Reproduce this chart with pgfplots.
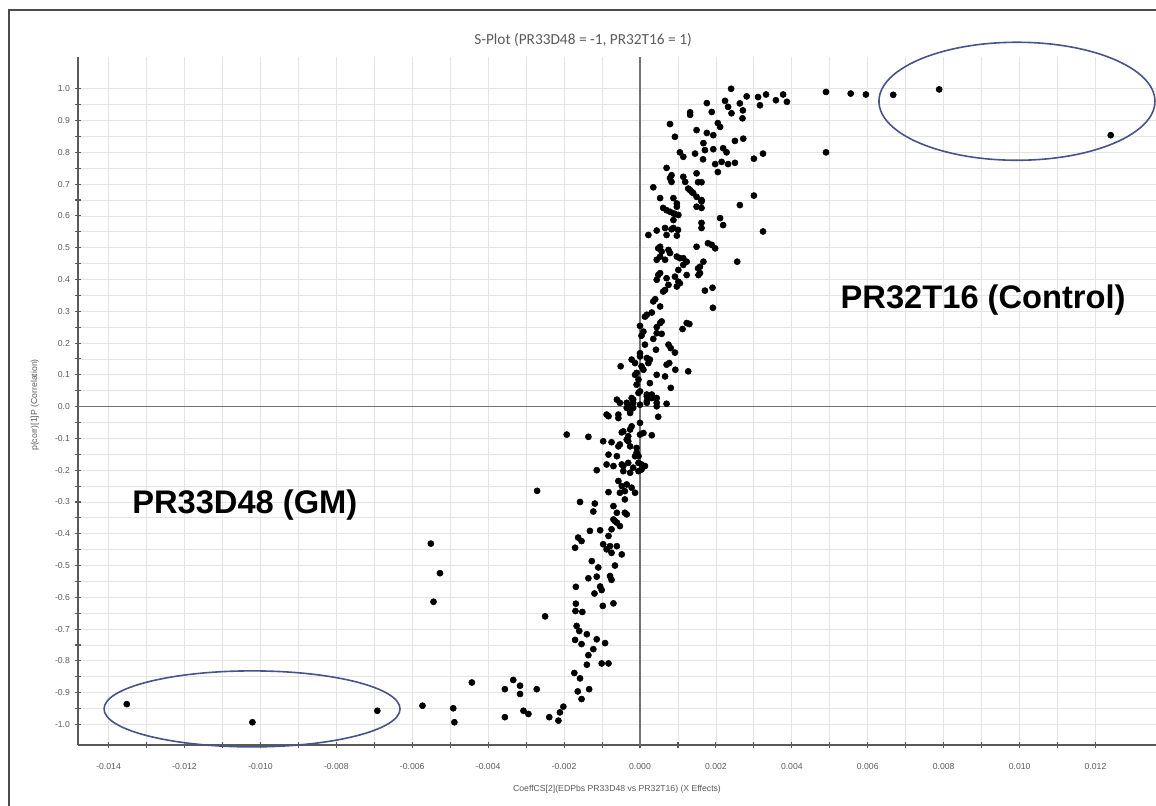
\documentclass[border=0pt]{standalone}
\usepackage{pgfplots}
\pgfplotsset{compat=1.18}
\usepackage{pgfplotstable}
\usepackage{fontspec}
\setmainfont{Liberation Sans}
\newfontfamily\titlefont{Carlito}
\definecolor{tickgray}{HTML}{5A5A5A}
\definecolor{gridgray}{HTML}{E4E4E4}
\definecolor{ellblue}{RGB}{72,82,140}

\pgfplotstableread{
x y
0.0024 1.00
0.0049 0.99
0.00555 0.985
0.00595 0.982
0.00667 0.981
0.00788 0.998
0.0124 0.854
0.00377 0.982
0.00358 0.964
0.00387 0.959
0.00332 0.982
0.00311 0.974
0.00316 0.948
0.00281 0.976
0.00263 0.954
0.00271 0.932
0.0027 0.907
0.00224 0.962
0.00232 0.943
0.00241 0.923
0.00176 0.955
0.00189 0.927
0.00132 0.926
0.00132 0.918
0.00205 0.892
0.00211 0.880
0.00079 0.889
0.00149 0.870
0.00176 0.861
0.00193 0.854
0.00092 0.849
0.0025 0.836
0.00272 0.843
0.00167 0.829
0.00105 0.800
0.00114 0.786
0.00145 0.796
0.00171 0.807
0.00193 0.810
0.00219 0.813
0.00228 0.800
0.00324 0.796
0.003 0.780
0.0049 0.800
0.00166 0.778
0.00198 0.763
0.00215 0.770
0.00232 0.763
0.0025 0.767
0.00205 0.738
0.0007 0.751
0.00083 0.728
0.00079 0.719
0.00083 0.707
0.00114 0.723
0.00119 0.707
0.00149 0.734
0.00153 0.706
0.00162 0.706
0.00035 0.690
0.00132 0.681
0.00127 0.686
0.00136 0.676
0.0014 0.672
0.00149 0.660
0.00162 0.650
0.00053 0.656
0.00061 0.625
0.0007 0.618
0.00079 0.613
0.00088 0.656
0.00097 0.629
0.00092 0.606
0.00097 0.639
0.00088 0.608
0.00101 0.603
0.00149 0.629
0.00162 0.625
0.00162 0.645
0.003 0.664
0.00263 0.634
0.00088 0.587
0.00162 0.578
0.00162 0.562
0.00211 0.593
0.00219 0.571
0.00022 0.540
0.00044 0.554
0.00066 0.562
0.00083 0.558
0.00088 0.562
0.001 0.556
0.0007 0.540
0.00097 0.538
0.00324 0.551
0.00053 0.503
0.00048 0.498
0.00044 0.462
0.00057 0.488
0.00066 0.462
0.00075 0.493
0.00079 0.483
0.00097 0.472
0.00105 0.467
0.00114 0.467
0.00123 0.456
0.00053 0.472
0.00149 0.503
0.00179 0.514
0.00189 0.509
0.00198 0.498
0.00167 0.456
0.00153 0.435
0.00158 0.420
0.00158 0.440
0.00154 0.414
0.00256 0.456
0.00053 0.420
0.00044 0.399
0.0007 0.404
0.00092 0.409
0.00101 0.393
0.00123 0.414
0.00101 0.430
0.00114 0.446
0.00048 0.414
0.00075 0.383
0.00097 0.378
0.00105 0.388
0.00066 0.367
0.00061 0.362
0.00171 0.365
0.00191 0.374
0.0004 0.338
0.00035 0.331
0.00192 0.311
0.00053 0.315
0.00018 0.289
0.00031 0.296
0.00013 0.283
0.00057 0.268
0.00112 0.244
0.0013 0.260
0.00123 0.263
0.00053 0.263
0.0 0.254
0.00009 0.236
0.00004 0.223
0.00044 0.250
0.00044 0.231
0.00057 0.229
0.00035 0.213
0.00013 0.195
0.00042 0.179
0.00075 0.195
0.00081 0.184
0.00092 0.170
0.0 0.168
0.0 0.158
-0.00022 0.148
0.00018 0.153
0.00026 0.148
0.00022 0.137
-0.00013 0.137
-0.00051 0.127
0.00004 0.127
0.00009 0.116
0.0007 0.132
0.00077 0.137
0.00093 0.116
0.00127 0.111
-0.00013 0.100
-0.00009 0.106
-0.00004 0.085
-0.00009 0.069
0.00026 0.074
0.00044 0.100
0.00066 0.095
0.00081 0.059
0.0 0.048
-0.00004 0.043
0.00018 0.038
0.00031 0.038
0.00044 0.027
-0.00022 0.027
-0.00061 0.022
-0.00018 0.022
-0.00018 0.012
-0.00035 0.012
-0.00053 0.012
0.00031 0.027
0.00018 0.032
0.00044 0.012
0.0007 0.009
0.00018 0.012
0.00018 0.017
0.0 0.006
0.00044 0.001
-0.00035 -0.004
-0.00018 -0.004
-0.00026 -0.015
-0.00026 -0.020
-0.00088 -0.025
-0.00057 -0.025
-0.00057 -0.036
-0.00083 -0.030
-0.00022 0.001
0.00048 -0.032
0.0 -0.051
-0.00022 -0.062
-0.00026 -0.072
-0.00044 -0.078
-0.00193 -0.088
-0.00136 -0.095
-0.00048 -0.081
-0.00031 -0.093
0.0 -0.088
0.00031 -0.090
0.00009 -0.083
-0.00035 -0.104
-0.00097 -0.109
-0.00075 -0.112
-0.00057 -0.125
-0.00053 -0.119
-0.00031 -0.109
-0.00026 -0.125
-0.00009 -0.130
-0.00083 -0.151
-0.00061 -0.156
-0.00009 -0.145
-0.00004 -0.156
-0.00013 -0.156
-0.00004 -0.177
-0.00088 -0.182
-0.0007 -0.187
-0.00048 -0.182
-0.00031 -0.177
-0.00044 -0.187
-0.00018 -0.192
0.00013 -0.187
0.00004 -0.182
0.00004 -0.198
-0.00026 -0.208
-0.00044 -0.203
-0.00114 -0.200
-0.00004 -0.203
-0.00057 -0.234
-0.00048 -0.250
-0.00035 -0.245
-0.0004 -0.266
-0.00022 -0.255
-0.00013 -0.271
-0.00053 -0.271
-0.00083 -0.269
-0.0004 -0.292
-0.00271 -0.265
-0.00158 -0.300
-0.00119 -0.305
-0.00123 -0.330
-0.0007 -0.313
-0.00061 -0.334
-0.0004 -0.334
-0.00035 -0.339
-0.0007 -0.355
-0.00066 -0.360
-0.00061 -0.365
-0.00053 -0.376
-0.00075 -0.386
-0.00132 -0.391
-0.00105 -0.389
-0.00083 -0.407
-0.00163 -0.412
-0.00154 -0.423
-0.00171 -0.444
-0.00097 -0.433
-0.00079 -0.439
-0.00061 -0.439
-0.00551 -0.431
-0.00527 -0.524
-0.00544 -0.614
-0.0025 -0.660
-0.00088 -0.449
-0.00075 -0.460
-0.00048 -0.465
-0.00127 -0.486
-0.0011 -0.506
-0.00066 -0.500
-0.00136 -0.540
-0.00114 -0.535
-0.00079 -0.533
-0.00075 -0.545
-0.00169 -0.567
-0.00105 -0.566
-0.00101 -0.577
-0.0012 -0.588
-0.00169 -0.620
-0.0017 -0.643
-0.00152 -0.646
-0.00098 -0.627
-0.0007 -0.619
-0.00167 -0.690
-0.0016 -0.706
-0.0014 -0.716
-0.00171 -0.734
-0.00154 -0.747
-0.00114 -0.732
-0.00092 -0.744
-0.00123 -0.763
-0.00136 -0.782
-0.0014 -0.812
-0.00101 -0.808
-0.00083 -0.808
-0.00173 -0.838
-0.00158 -0.855
-0.00164 -0.896
-0.00134 -0.889
-0.00154 -0.920
-0.00202 -0.944
-0.00211 -0.962
-0.00215 -0.988
-0.00239 -0.977
-0.00307 -0.957
-0.00294 -0.967
-0.00356 -0.977
-0.00334 -0.860
-0.00316 -0.878
-0.00316 -0.904
-0.00356 -0.889
-0.00272 -0.889
-0.00443 -0.868
-0.00573 -0.941
-0.00492 -0.949
-0.00489 -0.993
-0.01352 -0.936
-0.01021 -0.993
-0.00692 -0.957
}\splotdata

\begin{document}
\begin{tikzpicture}
\useasboundingbox (0,0) rectangle (867pt,604.5pt);
\draw[line width=1.6pt, black!70] (6.75pt,-10pt) -- (6.75pt,597pt) -- (880pt,597pt);
\begin{axis}[
  at={(58.5pt,45.75pt)}, anchor=south west,
  scale only axis, width=808.5pt, height=516pt,
  xmin=-0.014805, xmax=0.013593, ymin=-1.0646, ymax=1.10,
  axis x line*=bottom, axis y line*=left,
  axis line style={line width=1.4pt, black!65},
  clip=false,
  scaled x ticks=false, scaled y ticks=false,
  xtick={-0.014,-0.012,-0.010,-0.008,-0.006,-0.004,-0.002,0,0.002,0.004,0.006,0.008,0.010,0.012},
  ytick={-1,-0.9,-0.8,-0.7,-0.6,-0.5,-0.4,-0.3,-0.2,-0.1,0,0.1,0.2,0.3,0.4,0.5,0.6,0.7,0.8,0.9,1},
  minor x tick num=1, minor y tick num=1,
  grid=both,
  major grid style={gridgray, line width=0.6pt},
  minor grid style={gridgray, line width=0.6pt},
  tick align=center,
  major tick length=5pt, minor tick length=5pt,
  tick style={black!65, line width=0.8pt},
  /pgf/number format/assume math mode=true,
  xticklabel style={/pgf/number format/.cd, fixed, fixed zerofill, precision=3, /tikz/.cd,
     font=\fontsize{6.5}{7.5}\selectfont, text=tickgray, yshift=-8pt},
  yticklabel style={/pgf/number format/.cd, fixed, fixed zerofill, precision=1, /tikz/.cd,
     font=\fontsize{6.5}{7.5}\selectfont, text=tickgray},
]
\draw[black!55, line width=0.9pt] (axis cs:0,-1.0646) -- (axis cs:0,1.10);
\draw[black!55, line width=0.9pt] (axis cs:-0.014805,0) -- (axis cs:0.013593,0);
\addplot[only marks, mark=*, mark size=2.3pt, black] table[x=x,y=y] {\splotdata};
\draw[ellblue, line width=1.2pt] (axis cs:0.00993,0.9607) ellipse [x radius=103.5pt, y radius=44.25pt];
\draw[ellblue, line width=1.2pt] (axis cs:-0.01022,-0.951) ellipse [x radius=111pt, y radius=28.5pt];
\node[font=\bfseries\fontsize{24.5}{28}\selectfont] at (axis cs:0.00904,0.335) {PR32T16 (Control)};
\node[font=\bfseries\fontsize{24.5}{28}\selectfont] at (axis cs:-0.01041,-0.31) {PR33D48 (GM)};
\end{axis}
\node[font=\titlefont\fontsize{11.5}{13}\selectfont, text=tickgray] at (437.25pt,574.5pt) {S-Plot (PR33D48 = -1, PR32T16 = 1)};
\node[font=\fontsize{6.5}{8}\selectfont, text=tickgray] at (462.75pt,12.75pt) {CoeffCS[2](EDPbs PR33D48 vs PR32T16) (X Effects)};
\node[font=\fontsize{6.5}{8}\selectfont, text=tickgray, rotate=90] at (26.25pt,300.75pt) {p(corr)[1]P (Correlation)};
\end{tikzpicture}
\end{document}
